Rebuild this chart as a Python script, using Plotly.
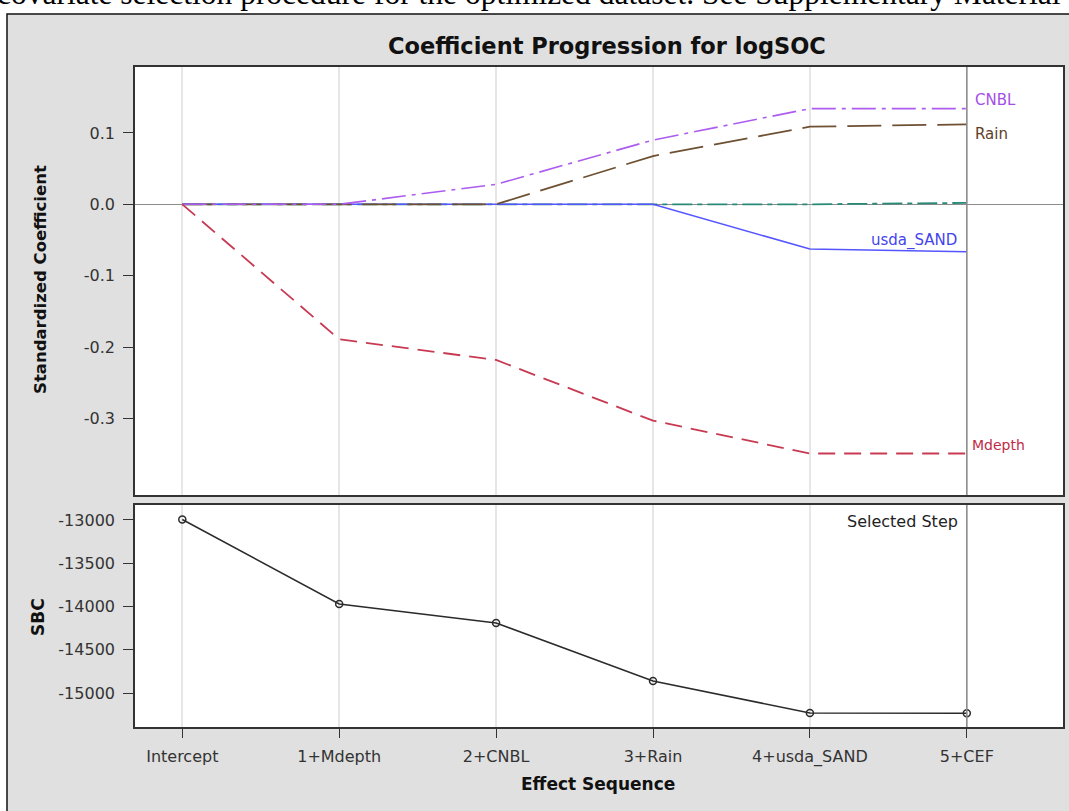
import plotly.graph_objects as go

W, H = 1069, 811

steps = ["Intercept", "1+Mdepth", "2+CNBL", "3+Rain", "4+usda_SAND", "5+CEF"]

coef_Mdepth = [0.0, -0.189, -0.218, -0.303, -0.349, -0.349]
coef_CNBL = [0.0, 0.0, 0.028, 0.090, 0.134, 0.134]
coef_Rain = [0.0, 0.0, 0.0, 0.0676, 0.1087, 0.112]
coef_SAND = [0.0, 0.0, 0.0, 0.0, -0.0626, -0.0664]
coef_CEF = [0.0, 0.0, 0.0, 0.0, 0.0, 0.002]

sbc = [-12995, -13971, -14191, -14861, -15231, -15233]

coef_ticks = [0.1, 0.0, -0.1, -0.2, -0.3]
sbc_ticks = [-13000, -13500, -14000, -14500, -15000]

FONT = "DejaVu Sans"
TXT = "#333333"

def px_x(p):
    return p / W

def px_y(p):
    return 1 - p / H

fig = go.Figure()

series = [
    ("CEF", coef_CEF, "#2a8a78", "20px,5px,5px,5px", 1.8),
    ("usda_SAND", coef_SAND, "#5555ff", "solid", 1.5),
    ("Rain", coef_Rain, "#6e5032", "34px,11px", 1.8),
    ("CNBL", coef_CNBL, "#ad5cf0", "24px,6px,4px,6px", 1.6),
    ("Mdepth", coef_Mdepth, "#c83a52", "17px,9px", 1.8),
]
for name, vals, col, dash, w in series:
    fig.add_trace(go.Scatter(x=steps, y=vals, mode="lines", name=name,
                             line=dict(color=col, dash=dash, width=w),
                             xaxis="x", yaxis="y", showlegend=False))

fig.add_trace(go.Scatter(x=steps, y=sbc, mode="lines+markers", name="SBC",
                         line=dict(color="#2b2b2b", width=1.5),
                         marker=dict(symbol="circle-open", size=7, color="#2b2b2b",
                                     line=dict(width=1.5, color="#2b2b2b")),
                         xaxis="x2", yaxis="y2", showlegend=False))

xr = [(135 - 182.3) / 156.9, (1063 - 182.3) / 156.9]
axline = dict(showline=True, mirror=True, linecolor="#333333", linewidth=1.6)

fig.update_layout(
    width=W, height=H,
    margin=dict(l=0, r=0, t=0, b=0),
    paper_bgcolor="white",
    plot_bgcolor="white",
    xaxis=dict(domain=[px_x(135), px_x(1063)], type="category", categoryarray=steps,
               range=xr, showgrid=True, gridcolor="#e6e6e6", gridwidth=1.5,
               showticklabels=False, ticks="", anchor="y", zeroline=False, **axline),
    yaxis=dict(domain=[px_y(495), px_y(67)], range=[-0.4071, 0.1923],
               tickvals=coef_ticks, ticktext=["%.1f" % v for v in coef_ticks],
               ticks="outside", ticklen=10, tickwidth=1.3, tickcolor="#333333",
               tickfont=dict(family=FONT, size=16, color=TXT), ticklabelstandoff=5,
               showgrid=False, zeroline=True, zerolinecolor="#8c8c8c", zerolinewidth=1.3,
               anchor="x", **axline),
    xaxis2=dict(domain=[px_x(135), px_x(1063)], type="category", categoryarray=steps,
                range=xr, showgrid=True, gridcolor="#e6e6e6", gridwidth=1.5,
                ticks="outside", ticklen=9, tickwidth=1.3, tickcolor="#333333",
                tickfont=dict(family=FONT, size=16, color=TXT), ticklabelstandoff=5,
                anchor="y2", zeroline=False, **axline),
    yaxis2=dict(domain=[px_y(727), px_y(505)], range=[-15393, -12827],
                tickvals=sbc_ticks, ticktext=[str(v) for v in sbc_ticks],
                ticks="outside", ticklen=10, tickwidth=1.3, tickcolor="#333333",
                tickfont=dict(family=FONT, size=16, color=TXT), ticklabelstandoff=5,
                showgrid=False, zeroline=False, anchor="x2", **axline),
)

shapes = [
    dict(type="rect", xref="paper", yref="paper", x0=px_x(7), x1=1.02, y0=-0.02, y1=px_y(14),
         fillcolor="#e0e0e0", line=dict(color="#111111", width=1.5), layer="below"),
    dict(type="rect", xref="paper", yref="paper", x0=px_x(135), x1=px_x(1063),
         y0=px_y(495), y1=px_y(67), fillcolor="white", line=dict(width=0), layer="below"),
    dict(type="rect", xref="paper", yref="paper", x0=px_x(135), x1=px_x(1063),
         y0=px_y(727), y1=px_y(505), fillcolor="white", line=dict(width=0), layer="below"),
    dict(type="line", xref="x", yref="y domain", x0=steps[-1], x1=steps[-1], y0=0, y1=1,
         line=dict(color="#8c8c8c", width=1.5)),
    dict(type="line", xref="x2", yref="y2 domain", x0=steps[-1], x1=steps[-1], y0=0, y1=1,
         line=dict(color="#8c8c8c", width=1.5)),
]
fig.update_layout(shapes=shapes)

ann = []
# page text above the figure, clipped by the top edge as in the source screenshot
ann.append(dict(text="covariate selection procedure for the optimized dataset. See Supplementary Material",
                xref="paper", yref="paper", x=px_x(-5), y=px_y(-6.5), xanchor="left", yanchor="middle",
                showarrow=False, font=dict(family="Liberation Serif", size=31.5, color="black")))
ann.append(dict(text="<b>Coefficient Progression for logSOC</b>", xref="paper", yref="paper",
                x=px_x(607), y=px_y(46), xanchor="center", yanchor="middle", showarrow=False,
                font=dict(family=FONT, size=22.5, color="#111111")))
ann.append(dict(text="<b>Standardized Coefficient</b>", xref="paper", yref="paper",
                x=px_x(41), y=px_y(280), xanchor="center", yanchor="middle", textangle=-90,
                showarrow=False, font=dict(family=FONT, size=16.5, color="#111111")))
ann.append(dict(text="<b>SBC</b>", xref="paper", yref="paper",
                x=px_x(38), y=px_y(617), xanchor="center", yanchor="middle", textangle=-90,
                showarrow=False, font=dict(family=FONT, size=17, color="#111111")))
ann.append(dict(text="<b>Effect Sequence</b>", xref="paper", yref="paper",
                x=px_x(598), y=px_y(784), xanchor="center", yanchor="middle",
                showarrow=False, font=dict(family=FONT, size=17, color="#111111")))
# curve labels
labels = [
    ("CNBL", coef_CNBL[-1], "#a64ee8", "left", 6, 9, 15),
    ("Rain", coef_Rain[-1], "#5e4028", "left", 6, -10, 15),
    ("usda_SAND", coef_SAND[-1], "#4444ee", "right", -8, 11, 15),
    ("Mdepth", coef_Mdepth[-1], "#c02c46", "left", 3, 9, 14),
]
for t, v, c, anc, xs, ys, fs in labels:
    ann.append(dict(text=t, xref="x", yref="y", x=steps[-1], y=v, xanchor=anc, yanchor="middle",
                    xshift=xs, yshift=ys, showarrow=False, font=dict(family=FONT, size=fs, color=c)))
ann.append(dict(text="Selected Step", xref="x2", yref="y2 domain", x=steps[-1], y=1,
                xanchor="right", yanchor="top", xshift=-7, yshift=-5, showarrow=False,
                font=dict(family=FONT, size=16, color="#222222")))
fig.update_layout(annotations=ann)

fig.write_html("out.html")
